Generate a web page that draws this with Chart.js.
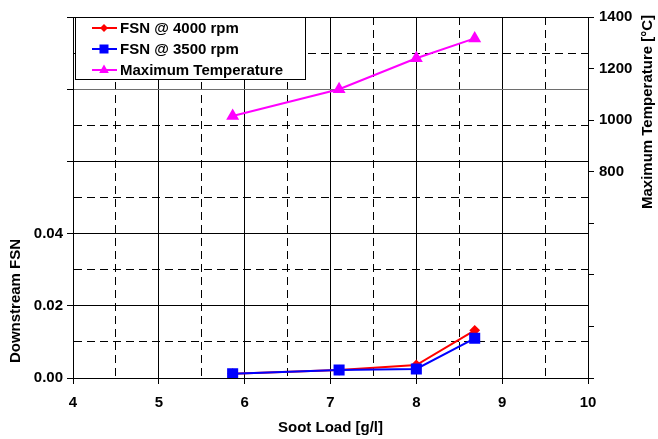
<!DOCTYPE html>
<html>
<head>
<meta charset="utf-8">
<script src="https://cdn.jsdelivr.net/npm/chart.js@4/dist/chart.umd.min.js"></script>
<style>
  html, body { margin: 0; padding: 0; background: #fff; }
  #wrap { width: 658px; height: 439px; }
</style>
</head>
<body>
<div id="wrap"><canvas id="sootChart"></canvas></div>
<script>
// Soot load [g/l] for each test point
const sootLoad = [5.86, 7.1, 8.0, 8.68];
// Downstream FSN
const fsn4000 = [0.0012, 0.0022, 0.0036, 0.0132];
const fsn3500 = [0.0012, 0.0022, 0.0025, 0.0110];
// Maximum temperature [°C]
const maxTemp = [1016, 1120, 1240, 1317];

// Labelled ticks on each axis
const xTickLabels = [4, 5, 6, 7, 8, 9, 10];
const fsnTickLabels = [0, 0.02, 0.04];
const tempTickLabels = [800, 1000, 1200, 1400];

const FONT = '"Liberation Sans", Arial, sans-serif';
Chart.defaults.font.family = FONT;
Chart.defaults.font.size = 15;
Chart.defaults.font.weight = 'bold';
Chart.defaults.color = '#000';

const DASH = [8, 5];
const toPoints = (ys) => sootLoad.map((x, i) => ({ x: x, y: ys[i] }));
const isHalf = (v) => Math.abs(v - Math.round(v)) > 0.01;
const isOddHundredth = (v) => Math.round(v * 100) % 2 === 1;

function marker(ctx, style, x, y, color) {
  ctx.fillStyle = color;
  ctx.beginPath();
  if (style === 'diamond') {
    ctx.moveTo(x, y - 4); ctx.lineTo(x + 4, y); ctx.lineTo(x, y + 4); ctx.lineTo(x - 4, y);
  } else if (style === 'square') {
    ctx.rect(x - 4.5, y - 4.5, 9, 9);
  } else {
    ctx.moveTo(x, y - 5.5); ctx.lineTo(x + 4.8, y + 3); ctx.lineTo(x - 4.8, y + 3);
  }
  ctx.closePath();
  ctx.fill();
}

const legendItems = [
  { text: 'FSN @ 4000 rpm', color: '#ff0000', style: 'diamond' },
  { text: 'FSN @ 3500 rpm', color: '#0000ff', style: 'square' },
  { text: 'Maximum Temperature', color: '#ff00ff', style: 'triangle' }
];

// legend box and axis titles
const overlay = {
  id: 'overlay',
  afterDraw(chart) {
    const { ctx, chartArea: a } = chart;
    ctx.save();
    ctx.fillStyle = '#fff';
    ctx.fillRect(a.left + 2, a.top, 230, 62);
    ctx.strokeStyle = '#000';
    ctx.lineWidth = 1;
    ctx.strokeRect(a.left + 2.5, a.top + 0.5, 230, 62);
    ctx.font = 'bold 15px ' + FONT;
    ctx.textBaseline = 'middle';
    ctx.textAlign = 'left';
    legendItems.forEach((item, i) => {
      const y = a.top + 11 + i * 21;
      ctx.strokeStyle = item.color;
      ctx.lineWidth = 2;
      ctx.beginPath();
      ctx.moveTo(a.left + 19, y);
      ctx.lineTo(a.left + 44, y);
      ctx.stroke();
      marker(ctx, item.style, a.left + 31, y, item.color);
      ctx.fillStyle = '#000';
      ctx.fillText(item.text, a.left + 47, y + 1);
    });

    ctx.textAlign = 'center';
    ctx.fillText('Soot Load [g/l]', (a.left + a.right) / 2, a.bottom + 50);

    ctx.save();
    ctx.translate(16, a.bottom - 77);
    ctx.rotate(-Math.PI / 2);
    ctx.fillText('Downstream FSN', 0, 0);
    ctx.restore();

    ctx.save();
    ctx.translate(648, a.top + 95);
    ctx.rotate(-Math.PI / 2);
    ctx.fillText('Maximum Temperature [°C]', 0, 0);
    ctx.restore();
    ctx.restore();
  }
};

new Chart(document.getElementById('sootChart'), {
  type: 'line',
  data: {
    datasets: [
      {
        label: 'FSN @ 4000 rpm',
        data: toPoints(fsn4000),
        borderColor: '#ff0000',
        backgroundColor: '#ff0000',
        borderWidth: 2,
        pointStyle: 'rectRot',
        pointRadius: 4,
        yAxisID: 'y',
        order: 2
      },
      {
        label: 'FSN @ 3500 rpm',
        data: toPoints(fsn3500),
        borderColor: '#0000ff',
        backgroundColor: '#0000ff',
        borderWidth: 2,
        pointStyle: 'rect',
        pointRadius: 6.4,
        yAxisID: 'y',
        order: 1
      },
      {
        label: 'Maximum Temperature',
        data: toPoints(maxTemp),
        borderColor: '#ff00ff',
        backgroundColor: '#ff00ff',
        borderWidth: 2,
        pointStyle: 'triangle',
        pointRadius: 5.5,
        yAxisID: 'y1',
        order: 3
      }
    ]
  },
  options: {
    responsive: true,
    maintainAspectRatio: false,
    animation: false,
    layout: { padding: { top: 17, left: 0, right: 0, bottom: 0 } },
    plugins: { legend: { display: false }, tooltip: { enabled: false } },
    elements: { line: { tension: 0 }, point: { borderWidth: 0 } },
    scales: {
      x: {
        type: 'linear',
        min: 4,
        max: 10,
        afterFit: (s) => { s.height = 61; },
        ticks: {
          stepSize: 0.5,
          padding: 10,
          maxRotation: 0,
          callback: (v) => xTickLabels.includes(v) ? String(v) : ''
        },
        grid: {
          color: '#000',
          lineWidth: 1,
          tickLength: 6,
          tickColor: (c) => c.tick && isHalf(c.tick.value) ? 'rgba(0,0,0,0)' : '#000'
        },
        border: {
          color: '#000',
          width: 1,
          dash: (c) => c.tick && isHalf(c.tick.value) ? DASH : []
        }
      },
      y: {
        position: 'left',
        min: 0,
        max: 0.1,
        afterFit: (s) => { s.width = 73; },
        ticks: {
          stepSize: 0.01,
          padding: 4,
          callback: (v) => fsnTickLabels.some((t) => Math.abs(t - v) < 1e-6) ? v.toFixed(2) : ''
        },
        grid: {
          color: (c) => c.tick && Math.abs(c.tick.value - 0.08) < 1e-6 ? '#6e6e6e' : '#000',
          lineWidth: 1,
          tickLength: 6,
          tickColor: (c) => c.tick && isOddHundredth(c.tick.value) ? 'rgba(0,0,0,0)' : '#000'
        },
        border: {
          color: '#000',
          width: 1,
          dash: (c) => c.tick && isOddHundredth(c.tick.value) ? DASH : []
        }
      },
      y1: {
        position: 'right',
        min: 0,
        max: 1400,
        afterFit: (s) => { s.width = 70; },
        ticks: {
          stepSize: 200,
          padding: 5,
          callback: (v) => tempTickLabels.includes(v) ? String(v) : ''
        },
        grid: { drawOnChartArea: false, tickLength: 6, tickColor: '#000' },
        border: { color: '#000', width: 1 }
      }
    }
  },
  plugins: [overlay]
});
</script>
</body>
</html>
